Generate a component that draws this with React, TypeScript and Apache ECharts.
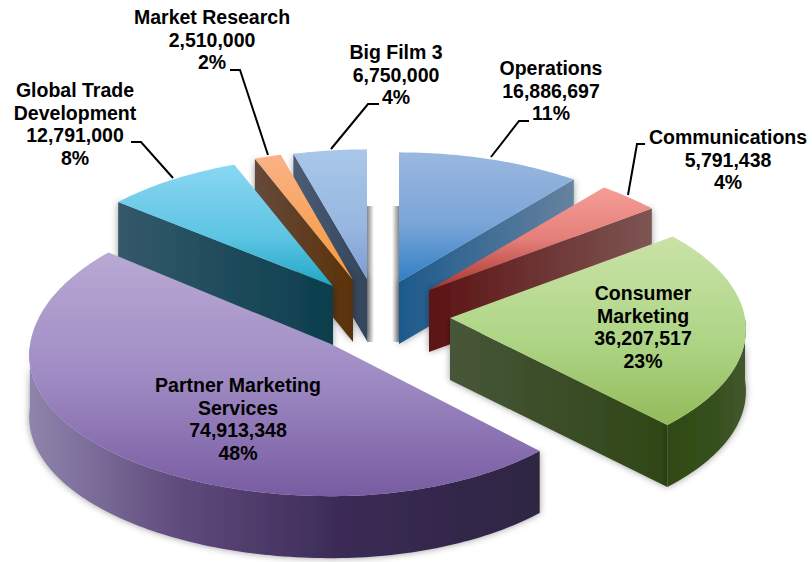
import React, { useEffect, useRef } from "react";
import * as echarts from "echarts";

const categories = ["Operations", "Communications", "Consumer\nMarketing", "Partner Marketing\nServices", "Global Trade\nDevelopment", "Market Research", "Big Film 3"];
const values = [16886697, 5791438, 36207517, 74913348, 12791000, 2510000, 6750000];

// Back-to-front painting order (indices into categories)
const drawOrder = [6, 5, 4, 0, 1, 2, 3];

type G = [number, string][];
type Look = {
  ax: number; ay: number; sL?: number; sR?: number; sB?: number;
  top: G; cut: G; rim?: G;
  label: [number, number]; leader?: number[][];
};

const looks: Look[] = [
  { ax: 399, ay: 282, top: [[0, "#9ab8df"], [0.55, "#7aa5d8"], [1, "#2f7fc4"]], cut: [[0, "#1d5a8c"], [1, "#66829f"]], label: [551, 68], leader: [[529, 121], [519, 121], [491, 157]] },
  { ax: 429, ay: 290, top: [[0, "#f59d98"], [0.5, "#e57f79"], [1, "#a8332e"]], cut: [[0, "#5c1313"], [1, "#7d5553"]], label: [728, 137], leader: [[645, 144], [637, 144], [628, 195]] },
  { ax: 450, ay: 318, top: [[0, "#cae2a8"], [0.55, "#aed586"], [1, "#93bb5a"]], cut: [[0, "#475638"], [1, "#2f4616"]], rim: [[0, "#2f4a14"], [0.6, "#37501c"], [1, "#445630"]], label: [643, 293] },
  { ax: 331, ay: 344, sL: 1.02, sR: 0.96, sB: 1.09, top: [[0, "#b9a9d4"], [0.5, "#a08cc4"], [1, "#785ca2"]], cut: [[0, "#8c80a8"], [1, "#2d2540"]], rim: [[0, "#8f84ac"], [0.3, "#5f4a7c"], [0.62, "#3a2a55"], [1, "#2e2642"]], label: [238, 385] },
  { ax: 333, ay: 286, sL: 0.985, top: [[0, "#8ad7f2"], [0.6, "#5cc4e2"], [1, "#22a6c6"]], cut: [[0, "#33596a"], [1, "#0c3e4d"]], label: [75, 90], leader: [[131, 142], [141, 142], [173, 178]] },
  { ax: 353, ay: 280, sL: 0.98, top: [[0, "#f9b287"], [1, "#f8983c"]], cut: [[0, "#66493b"], [1, "#5a3208"]], label: [212, 17], leader: [[230, 70], [240, 70], [268, 155]] },
  { ax: 367, ay: 279, top: [[0, "#a9c7e9"], [0.6, "#97b7e0"], [1, "#7c9ed2"]], cut: [[0, "#4a5d74"], [1, "#33455c"]], label: [396, 52], leader: [[379, 104], [368, 104], [331, 149]] },
];

const RADIUS_X = 295;
const RADIUS_Y = 140;
const PERSPECTIVE = 0.08;
const DEPTH = 62;
const LINE_HEIGHT = 22.5;
const total = values.reduce((a, b) => a + b, 0);

const grad = (stops: G, horizontal: boolean) => ({
  type: "linear", x: 0, y: 0, x2: horizontal ? 1 : 0, y2: horizontal ? 0 : 1,
  colorStops: stops.map(([offset, color]) => ({ offset, color })),
});

function renderItem(_p: any, api: any) {
  const i = api.value(0) as number;
  const lk = looks[i];
  const before = values.slice(0, i).reduce((a, b) => a + b, 0);
  const t0 = (before / total) * Math.PI * 2;
  const t1 = ((before + values[i]) / total) * Math.PI * 2;
  const pt = (t: number): number[] => {
    const u = Math.sin(t), v = -Math.cos(t);
    const p = 1 / (1 - PERSPECTIVE * v);
    const s = u >= 0 ? lk.sR ?? 1 : lk.sL ?? 1;
    const b = v < 0 ? lk.sB ?? 1 : 1;
    return [lk.ax + RADIUS_X * s * u * p, lk.ay + RADIUS_Y * b * v * p];
  };
  const n = Math.max(6, Math.ceil((t1 - t0) / 0.02));
  const arc: number[][] = [];
  for (let k = 0; k <= n; k++) arc.push(pt(t0 + ((t1 - t0) * k) / n));
  const apex = [lk.ax, lk.ay];
  const drop = (q: number[]) => [q[0], q[1] + DEPTH];
  const children: any[] = [];
  const wall = (pts: number[][], stops: G) =>
    children.push({
      type: "polygon",
      shape: { points: [...pts, ...pts.slice().reverse().map(drop)] },
      style: { fill: grad(stops, true), shadowBlur: 7, shadowColor: "rgba(0,0,0,0.4)" },
    });

  const first = arc[0], last = arc[arc.length - 1];
  if (first[0] < apex[0]) wall([first, apex], lk.cut);
  if (last[0] > apex[0]) wall([last, apex], lk.cut);
  const vis = arc.filter((_, k) => {
    const t = t0 + ((t1 - t0) * k) / n;
    return t > Math.PI / 2 && t < (3 * Math.PI) / 2;
  });
  if (vis.length > 1 && lk.rim) wall(vis, lk.rim);

  children.push({
    type: "polygon",
    shape: { points: [apex, ...arc] },
    style: { fill: grad(lk.top, false) },
  });

  if (lk.leader) {
    children.push({
      type: "polyline",
      shape: { points: lk.leader },
      style: { stroke: "#000", lineWidth: 2, fill: "none" },
    });
  }
  const lines = [
    ...categories[i].split("\n"),
    values[i].toLocaleString("en-US"),
    `${Math.round((values[i] / total) * 100)}%`,
  ];
  lines.forEach((text, k) => {
    children.push({
      type: "text",
      x: lk.label[0],
      y: lk.label[1] + k * LINE_HEIGHT,
      style: {
        text,
        fill: "#000",
        font: 'bold 19.5px "Liberation Sans", Arial, sans-serif',
        align: "center",
        verticalAlign: "middle",
      },
    });
  });
  return { type: "group", children };
}

export default function App() {
  const ref = useRef<HTMLDivElement>(null);
  useEffect(() => {
    document.body.style.margin = "0";
    const chart = echarts.init(ref.current!, undefined, { renderer: "svg" });
    chart.setOption({
      animation: false,
      backgroundColor: "#fff",
      graphic: [
        ...[[367, 1], [392, 0]].map(([x, dir]) => ({
          type: "rect",
          shape: { x, y: 206, width: 7, height: 136 },
          style: {
            fill: {
              type: "linear", x: 0, y: 0, x2: 1, y2: 0,
              colorStops: dir
                ? [{ offset: 0, color: "#858585" }, { offset: 1, color: "#ffffff" }]
                : [{ offset: 0, color: "#ffffff" }, { offset: 1, color: "#858585" }],
            },
          },
          z: -1,
        })),
      ],
      series: [
        {
          type: "custom",
          coordinateSystem: "none",
          renderItem,
          silent: true,
          z: 2,
          data: drawOrder.map((i) => [i, values[i]]),
        },
      ],
    });
    return () => chart.dispose();
  }, []);
  return <div ref={ref} style={{ position: "absolute", left: 0, top: 0, width: 812, height: 562 }} />;
}
